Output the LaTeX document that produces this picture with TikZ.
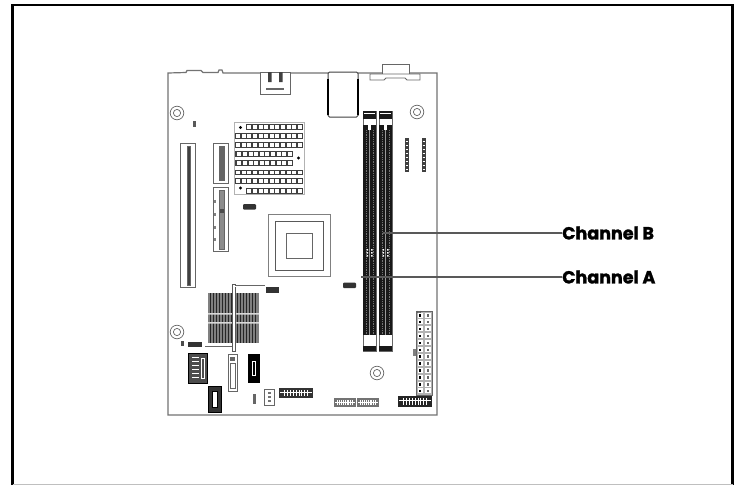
\documentclass[tikz,border=0pt]{standalone}
\usepackage{amsmath,amssymb}
\usepackage{fontspec}
\setmainfont{Poppins}[BoldFeatures={FakeBold=1.6}]
\usepackage{tikz}
\tikzset{
  boardline/.style={draw=black!55,line width=1.2pt},
  partline/.style={draw=black!60,line width=0.9pt,fill=white},
  blackpart/.style={draw=black,line width=0.6pt,fill=black!80},
  greypart/.style={draw=black!60,line width=0.5pt,fill=black!60},
  screwhole/.style={draw=black!60,line width=0.7pt},
  leader/.style={draw=black!65,line width=1.2pt},
  chanlabel/.style={font=\bfseries\fontsize{17.5}{19}\selectfont,anchor=west,inner sep=0pt}
}
\begin{document}
\begin{tikzpicture}[x=1pt,y=-1pt]
  \useasboundingbox (0,0) rectangle (736,485);
  \fill [white] (0,0) rectangle (736,485);
  \draw [black,line width=2.4pt] (12.5,485) -- (12.5,5) -- (732.5,5) -- (732.5,485);
  \draw [black!25,line width=0.8pt] (12.5,484.5) -- (732.5,484.5);

  \draw [boardline] (168,415) -- (168,73) -- (186,72.5) -- (187,70.5) -- (201,70.5) -- (203,72.5)
  -- (218,72.5) -- (219,70) -- (222,70) -- (223,73) -- (437,73) -- (437,415) -- cycle;

  % rear connectors
  \draw [partline] (260,72) rectangle (290,94);
  \fill [black!75] (268,72) rectangle (271.5,82) (279,72) rectangle (282.5,82);
  \fill [black!60] (266,88) rectangle (284,90);
  \draw [draw=black!75,line width=1pt,fill=white,rounded corners=1.5pt] (328,72) rectangle (358,117);
  \draw [black,line width=1.2pt] (328,79) -- (328,115) (358,79) -- (358,115);
  \draw [partline] (382,64) rectangle (409,74);
  \draw [partline] (370,74) -- (420,74) -- (420,80) -- (407,80) -- (405,78) -- (386,78) -- (384,80)
  -- (370,80) -- cycle;

  % screw holes
  \foreach \hx/\hy in {177/113,417/112,177/332,377/373} {
    \draw [screwhole] (\hx,\hy) circle (6.8);
    \draw [screwhole] (\hx,\hy) circle (3.6);
  }
  \fill [black!65] (193,121) rectangle (196,127);

  % expansion slots
  \draw [partline] (180,143) rectangle (195,287);
  \draw [greypart,fill=black!75] (187,146) rectangle (190.5,285);
  \draw [partline] (213,143) rectangle (228,183);
  \draw [greypart] (219.5,146) rectangle (224,180);
  \draw [partline] (213,187) rectangle (228,251);
  \draw [greypart,fill=black!45] (219.5,190) rectangle (224,249);
  \fill [black!70] (219.5,209) rectangle (224,213);
  \foreach \ty in {200,213,226,238}
    \fill [black!50] (214,\ty) rectangle (216,\ty+3);

  % upper heat sink
  \draw [black!30,line width=0.7pt] (234,122) rectangle (304,194);
  \foreach \ry/\rh/\xa/\xb/\nsq in {124/5.5/246/303/9,133/5.5/235/303/11,142/5.5/235/303/11,151/6/235/293/9,160/6/235/293/9,
    170/5/235/303/11,178/5.5/235/303/11,188/5.5/246/303/9} {
    \fill [black!75] (\xa,\ry) rectangle (\xb,\ry+\rh);
    \foreach \sq in {0,...,\nsq} {
      \fill [white] (\xb-5.2-5.6*\sq,\ry+1) rectangle (\xb-1.2-5.6*\sq,\ry+\rh-1);
    }
  }
  \foreach \dx/\dy in {240.5/127.5,298.5/158,240.5/188}
    \fill [black] (\dx,\dy) circle (1.6);

  % processor socket
  \draw [black!50,line width=0.9pt] (268.7,214) rectangle (330,276);
  \draw [black!65,line width=0.9pt] (275,221) rectangle (323.5,270);
  \draw [black!60,line width=0.9pt] (286.7,233) rectangle (312,258);
  \fill [black!80,rounded corners=1pt] (243,204) rectangle (256,209.5);
  \fill [black!80,rounded corners=1pt] (343,282.5) rectangle (356,288);

  % lower heat sink
  \fill [black!50] (208,293) rectangle (259,343);
  \foreach \bx in {209.5,212.5,...,257}
    \fill [black!85] (\bx,293) rectangle (\bx+1.5,343);
  \fill [black!15] (208,313) rectangle (259,314.5) (208,322) rectangle (259,323.5);
  \draw [black!65,line width=0.7pt,fill=white] (232,284) rectangle (235,351);
  \draw [black!60,line width=1.5pt] (235,286) -- (265,286);
  \draw [white,line width=0.4pt] (235,286) -- (265,286);
  \draw [black!60,line width=1.5pt] (232,347) -- (205,347);
  \draw [white,line width=0.4pt] (232,347) -- (205,347);
  \fill [black!80] (266,287) rectangle (279,293);
  \fill [black!80] (188,342) rectangle (202,347);
  \fill [black!70] (181,341) rectangle (184,346);

  % bottom connectors
  \draw [blackpart,fill=black!70] (188,353) rectangle (207,383);
  \foreach \ly in {357,361,...,379}
    \draw [white,line width=0.4pt] (192,\ly) -- (199,\ly);
  \draw [white,line width=0.5pt] (201,358) rectangle (204,378);
  \draw [partline] (228,354) rectangle (237,391);
  \draw [greypart,fill=white] (230,363) rectangle (235,388);
  \fill [black!60] (230,357) rectangle (235,361);
  \draw [blackpart,fill=black] (248,354) rectangle (259,382);
  \draw [white,line width=0.5pt] (252,361) rectangle (255,375);
  \draw [blackpart,line width=1pt] (208,386) rectangle (221,412);
  \draw [black,line width=0.5pt,fill=white] (212,391) rectangle (217,407);
  \fill [black!60] (253,394) rectangle (256,404);
  \draw [partline] (264,389) rectangle (274,405);
  \foreach \py in {393,397,401}
    \fill [black!55] (267.5,\py-1) rectangle (270.5,\py+1);

  % pin headers
  \foreach \xa/\ya/\xb/\yb/\pc in {279/388/313/398/80,334/398/356/407/55,357/398/379/407/55,398/396/432/407/85} {
    \fill [black!\pc] (\xa,\ya) rectangle (\xb,\yb);
    \draw [white,line width=0.6pt] (\xa+1,\ya+4.5) -- (\xb-1,\ya+4.5);
    \foreach \pn in {2,...,10}
      \draw [white,line width=0.5pt] ({\xa+(\xb-\xa)*\pn/12},\ya+2) -- ({\xa+(\xb-\xa)*\pn/12},\yb-2);
  }

  % power connector
  \draw [greypart,fill=black!30] (416,311) rectangle (432,395);
  \draw [black!65,line width=0.7pt] (417,311) arc (180:0:2);
  \fill [black!50] (413,349) rectangle (416,356);
  \foreach \rw in {0,...,11} {
    \fill [white] (417.5,312.5+6.9*\rw) rectangle (423,317.5+6.9*\rw);
    \fill [white] (425,312.5+6.9*\rw) rectangle (431,317.5+6.9*\rw);
    \fill [black] (418.5,314+6.9*\rw) rectangle (421,316.5+6.9*\rw);
    \fill [black!60] (427,314+6.9*\rw) rectangle (429,316.5+6.9*\rw);
  }

  % small sticks
  \foreach \sx in {404.5,421.7} {
    \fill [black!75] (\sx,138) rectangle (\sx+4.5,172);
    \foreach \sy in {141,145,...,169}
      \draw [white,line width=0.3pt] (\sx+1,\sy) -- (\sx+3.5,\sy);
  }

  % memory slots
  \foreach \mx in {363,379} {
    \draw [black!60,line width=0.6pt,fill=white] (\mx,111) rectangle (\mx+13,351);
    \fill [black!90] (\mx,111) rectangle (\mx+13,118.5);
    \fill [white] (\mx+1,113) rectangle (\mx+12,114);
    \fill [black!90] (\mx,125) rectangle (\mx+13,335);
    \fill [white] (\mx+5,125) rectangle (\mx+8,130);
    \fill [black!90] (\mx,346) rectangle (\mx+13,351);
    \draw [black!40,line width=0.8pt] (\mx+6.5,130) -- (\mx+6.5,335);
    \draw [black!55,line width=0.4pt,dash pattern=on 0.6pt off 1.2pt] (\mx+3,130) -- (\mx+3,335)
    (\mx+10,130) -- (\mx+10,335);
    \foreach \nk in {249,252,255}
      \fill [white] (\mx+3.5,\nk) rectangle (\mx+5,\nk+1.5) (\mx+8,\nk) rectangle (\mx+9.5,\nk+1.5);
  }

  % channel labels
  \coordinate (slotb) at (383,233);
  \coordinate (slota) at (361,277);
  \node [chanlabel] (chanb) at (562,233) {Channel B};
  \node [chanlabel] (chana) at (562,277) {Channel A};
  \draw [leader] (slotb |- chanb.west) -- (chanb.west);
  \draw [leader] (slota |- chana.west) -- (chana.west);
\end{tikzpicture}
\end{document}
